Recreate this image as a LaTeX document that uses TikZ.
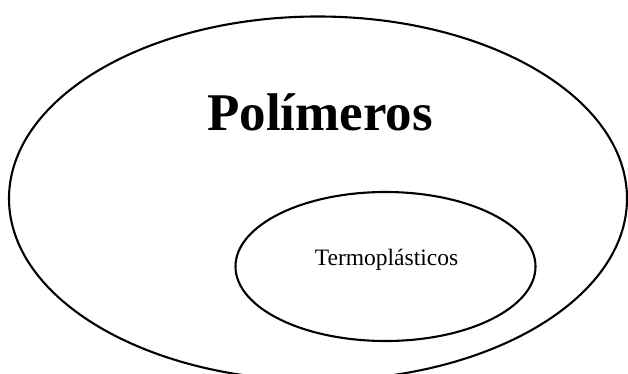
\documentclass[tikz,border=0pt]{standalone}
\usepackage{fontspec}
\setmainfont{Liberation Serif}
\usetikzlibrary{shapes.geometric}
\begin{document}
\begin{tikzpicture}[x=1pt,y=-1pt,
  ring/.style={ellipse,draw=black,line width=2.1pt,inner sep=0pt},
  bigtext/.style={font=\fontsize{53}{60}\selectfont\bfseries,anchor=base,inner sep=0pt},
  smalltext/.style={font=\fontsize{23.5}{28}\selectfont,anchor=base,inner sep=0pt}]
\useasboundingbox (0,0) rectangle (628,374);
\clip (0,0) rectangle (628,374);
\node[ring,minimum width=618pt,minimum height=364pt] (outer) at (318,198.5) {};
\node[ring,minimum width=300pt,minimum height=149pt] (inner) at (385.5,266.5) {};
\node[bigtext] (pol) at (320,131) {Polímeros};
\node[smalltext] (termo) at (386.5,265) {Termoplásticos};
\end{tikzpicture}
\end{document}
